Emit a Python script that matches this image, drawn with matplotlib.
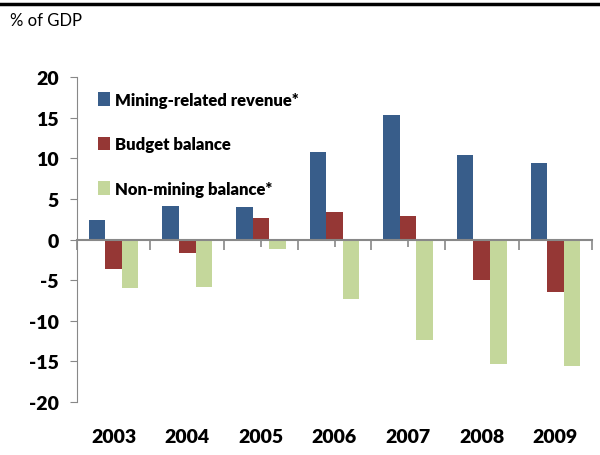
import numpy as np
import matplotlib.pyplot as plt
from matplotlib.lines import Line2D

years = ['2003', '2004', '2005', '2006', '2007', '2008', '2009']
mining_revenue = [2.4, 4.1, 4.0, 10.8, 15.3, 10.4, 9.4]
budget_balance = [-3.6, -1.7, 2.6, 3.4, 2.9, -5.0, -6.4]
non_mining = [-6.0, -5.8, -1.2, -7.3, -12.4, -15.3, -15.6]
labels = ['Mining-related revenue*', 'Budget balance', 'Non-mining balance*']
colors = ['#385d8a', '#953735', '#c4d79b']

plt.rcParams['font.family'] = ['Lato', 'DejaVu Sans']
plt.rcParams['axes.unicode_minus'] = False

fig = plt.figure(figsize=(6, 4.56), dpi=100)
ax = fig.add_axes([0.128, 0.116, 0.859, 0.713])

x = np.arange(len(years))
w = 0.225
for k, (vals, lab, c) in enumerate(zip([mining_revenue, budget_balance, non_mining], labels, colors)):
    ax.bar(x + (k - 1) * w, vals, w, color=c, label=lab, zorder=2)

ax.set_xlim(-0.5, len(years) - 0.5)
ax.set_ylim(-20, 20)
ax.set_yticks(np.arange(-20, 21, 5))
ax.tick_params(axis='y', length=5, color='#888888', labelsize=14, pad=8)
for t in ax.get_yticklabels():
    t.set_fontweight('heavy')

ax.spines['top'].set_visible(False)
ax.spines['right'].set_visible(False)
ax.spines['left'].set_color('#888888')
ax.spines['bottom'].set_color('#888888')
ax.spines['bottom'].set_position(('data', 0))
ax.spines['bottom'].set_linewidth(1.5)
ax.spines['bottom'].set_zorder(3)

ax.set_xticks(np.arange(-0.5, len(years), 1.0))
ax.set_xticks(x, minor=True)
ax.tick_params(axis='x', which='both', labelbottom=False, color='#888888', width=1.2)
ax.tick_params(axis='x', which='major', length=7)
ax.tick_params(axis='x', which='minor', length=5)

for i, yr in enumerate(years):
    ax.text(i, -0.105, yr, transform=ax.get_xaxis_transform(), ha='center', va='center',
            fontsize=14, fontweight='heavy')

leg = ax.legend(loc='upper left', bbox_to_anchor=(0.012, 1.0), frameon=False,
                handlelength=0.75, handleheight=0.9, handletextpad=0.3,
                labelspacing=1.7, prop={'size': 12, 'weight': 'heavy'})

fig.text(0.017, 0.955, '% of GDP', fontsize=12, ha='left', va='center')
fig.add_artist(Line2D([0, 1], [0.99, 0.99], color='black', lw=2.5, transform=fig.transFigure))

fig.savefig('out.png', dpi=100)
